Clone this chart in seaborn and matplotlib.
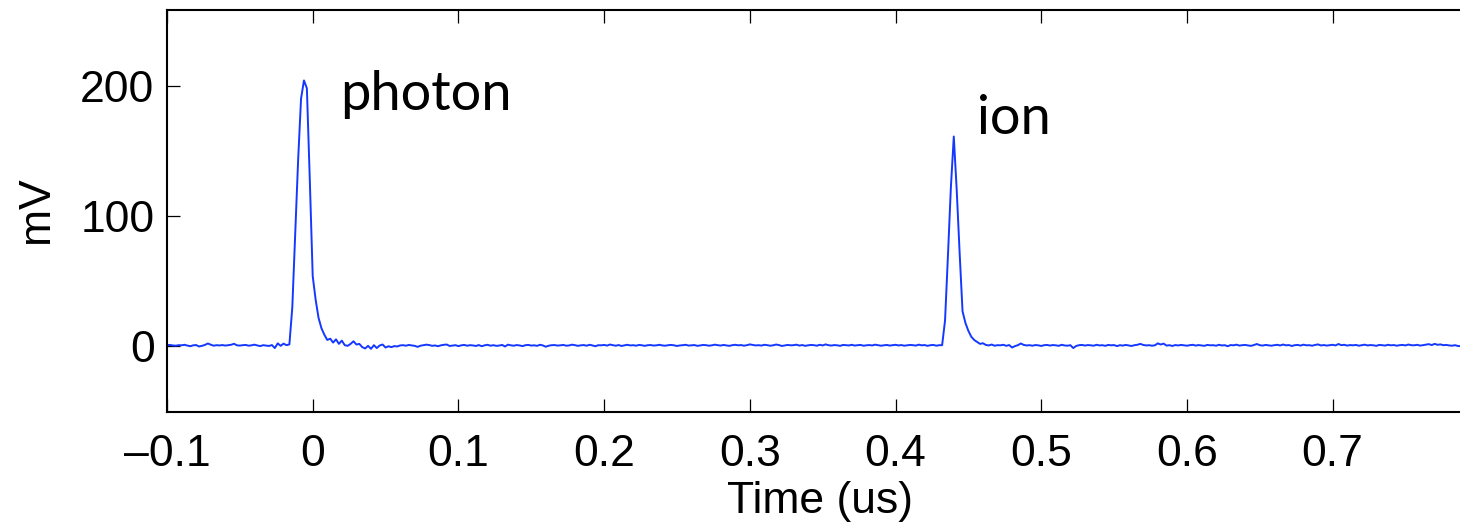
import numpy as np
import pandas as pd
import matplotlib
matplotlib.use("Agg")
import matplotlib.pyplot as plt
import seaborn as sns

# Oscilloscope trace: detector output (mV) vs time (us), sampled every 2 ns.
SAMPLE_STEP = 0.002

# Each segment: start time (us) and the recorded voltages (mV).
pre_photon_start = -0.100
pre_photon_mv = [
    1.0, 1.2, 0.8, 0.6, 1.0, 0.9, 1.3, 0.7, 0.2, 0.9,
    1.1, 0.0, 0.5, 1.2, 2.3, 1.4, 0.6, 1.0, 0.8, 1.1,
    0.7, 1.0, 1.3, 2.1, 0.9, 0.7, 1.0, 1.2, 0.6, 0.9,
    1.4, 0.8, 0.3, 1.0, 0.7, 0.4, 1.1, -1.2, 2.4, 0.5,
    2.2, 1.0, 1.6,
]

photon_start = -0.014
photon_mv = [
    30, 87, 143, 190, 204, 198, 128, 54, 36, 22,
    14, 9, 5, 6, 3, 5.5, 2, 4.5, 1, 0.5,
    2, 4, 1.5,
]

mid_start = 0.032
mid_mv = [
    2.0, -0.5, -1.5, 0.5, -1.8, 1.0, -1.2, 0.8, 1.5, -0.8,
    0.2, -0.5, 0.3, 0.0, 0.8, 1.0, 0.6, 1.2, 0.8, 0.5,
    -0.3, 0.6, 1.0, 1.4, 1.1, 0.5, 0.8, 0.2, 0.9, 1.3,
    1.5, 0.4, 0.7, 1.0, 0.3, 0.9, 1.2, 0.6, 1.0, 0.8,
    0.4, 1.1, 0.2, 0.9, 1.3, 0.6, 1.0, 0.5, 0.7, 1.2,
    0.0, 1.4, 0.9, 0.6, 1.1, 0.8, 0.3, 1.0, 1.2, 0.7,
    0.9, 0.5, 1.3, 0.8, -0.2, 0.6, 1.0, 1.1, 0.7, 0.9,
    1.2, 0.6, 0.8, 1.4, 1.0, 0.5, 0.9, 1.1, 0.6, 1.3,
    0.8, 0.2, 1.0, 0.9, 1.2, 0.7, 1.5, 1.0, 0.6, 1.1,
    0.4, 0.9, 1.3, 0.8, 1.0, 0.6, 1.2, 0.9, 0.5, 1.0,
    1.1, 0.7, 0.9, 1.3, 0.8, 0.6, 1.0, 1.2, 0.9, 0.4,
    0.8, 1.0, 1.3, 0.7, 0.9, 1.1, 0.5, 0.8, 1.2, 1.0,
    0.6, 0.9, 1.4, 1.0, 0.7, 1.2, 0.8, 0.5, 1.0, 1.3,
    0.9, 1.1, 0.6, 1.0, 1.6, 1.2, 0.8, 1.0, 0.7, 1.3,
    1.0, 0.6, 0.9, 1.5, 1.1, 0.4, 0.8, 1.2, 0.9, 1.0,
    1.4, 0.7, 1.1, 0.5, 0.9, 1.2, 1.0, 0.6, 1.3, 0.8,
    1.6, 1.0, 0.7, 1.1, 0.9, 0.5, 1.2, 1.0, 0.8, 1.3,
    0.7, 1.0, 1.2, 0.6, 0.9, 1.1, 0.8, 1.4, 1.0, 0.6,
    0.9, 1.2, 0.7, 1.0, 1.3, 0.8, 1.1, 0.6, 0.9, 1.2,
    1.0, 0.7, 1.4, 0.9, 1.1, 0.5, 1.0, 1.2, 0.6, 1.0,
]

ion_start = 0.432
ion_mv = [
    1.0, 20, 70, 122, 161, 120, 72, 27, 18, 12,
    7.5, 5, 3.5, 2, 2.5,
]

post_start = 0.462
post_mv = [
    1.2, 0.8, 1.5, 0.6, 1.0, 0.9, 1.3, 0.5, 1.1, -0.8,
    0.3, 1.0, 2.3, 1.2, 0.8, 1.0, 0.6, 1.1, 0.9, 0.4,
    1.0, 1.2, 0.7, 1.1, 0.9, 0.5, 1.3, 0.8, 0.6, 1.0,
    -1.2, 0.4, 1.0, 1.2, 0.7, 1.1, 0.9, 0.6, 1.3, 0.8,
    1.0, 0.5, 1.2, 0.9, 1.1, 0.3, 1.0, 0.7, 1.2, 0.8,
    0.4, 1.0, 1.3, 2.0, 1.2, 0.8, 1.0, 0.6, 0.9, 2.4,
    1.5, 2.2, 0.7, 1.0, 0.4, 1.1, 0.8, 1.2, 0.9, 0.6,
    1.0, 1.3, 0.7, 1.1, 0.8, 0.5, 1.2, 0.9, 1.0, 0.6,
    1.3, 0.8, 1.0, 0.2, 1.1, 0.9, 1.4, 0.7, 1.0, 1.2,
    0.8, 0.5, 1.1, 1.9, 1.0, 0.7, 1.2, 0.9, 0.6, 1.0,
    1.3, 0.8, 1.5, 0.9, 1.1, 0.4, 1.0, 1.2, 0.7, 1.4,
    0.9, 1.0, 0.6, 1.2, 1.6, 0.8, 1.1, 0.7, 1.0, 1.3,
    0.8, 1.9, 1.0, 1.3, 0.7, 1.1, 0.9, 1.2, 0.6, 1.0,
    1.4, 0.8, 1.1, 0.9, 0.5, 1.2, 1.0, 0.7, 1.3, 0.9,
    1.1, 0.6, 1.0, 1.2, 0.8, 1.5, 1.0, 0.9, 1.3, 0.7,
    1.0, 1.4, 1.8, 1.1, 2.0, 1.3, 1.6, 1.0, 1.2, 0.8,
    0.6, 1.0, 0.4, 0.2,
]

x_ticks = [-0.1, 0.0, 0.1, 0.2, 0.3, 0.4, 0.5, 0.6, 0.7]
x_tick_labels = ["\u20130.1", "0", "0.1", "0.2", "0.3", "0.4", "0.5", "0.6", "0.7"]
y_ticks = [0, 100, 200]
y_tick_labels = ["0", "100", "200"]

peak_labels = ["photon", "ion"]
peak_label_time = [0.0187, 0.456]
peak_label_mv = [181, 163]

segments = [
    (pre_photon_start, pre_photon_mv),
    (photon_start, photon_mv),
    (mid_start, mid_mv),
    (ion_start, ion_mv),
    (post_start, post_mv),
]
frames = []
for start, values in segments:
    t = start + SAMPLE_STEP * np.arange(len(values))
    frames.append(pd.DataFrame({"time": t, "mV": values}))
trace = pd.concat(frames, ignore_index=True)

sns.set_style("ticks")
plt.rcParams["font.family"] = ["Liberation Sans", "DejaVu Sans"]
for key in ["text.color", "axes.labelcolor", "xtick.color", "ytick.color",
            "axes.edgecolor"]:
    plt.rcParams[key] = "black"

fig = plt.figure(figsize=(14.6, 5.31), dpi=100)
ax = fig.add_axes([167 / 1460, 119.3 / 531, 1295 / 1460, 401.7 / 531])

sns.lineplot(data=trace, x="time", y="mV", ax=ax, color="#1438ff",
             linewidth=1.4, estimator=None, sort=False)

ax.set_xlim(-0.1, 0.7888)
ax.set_ylim(-50, 258)
ax.set_xticks(x_ticks)
ax.set_xticklabels(x_tick_labels)
ax.set_yticks(y_ticks)
ax.set_yticklabels(y_tick_labels)

for side in ["left", "top", "bottom"]:
    ax.spines[side].set_visible(True)
    ax.spines[side].set_linewidth(1.5)
    ax.spines[side].set_color("black")
ax.spines["right"].set_visible(False)

ax.tick_params(axis="both", which="major", direction="in", length=9.5,
               width=0.9, color="black", labelcolor="black", labelsize=32,
               top=True, right=False)
ax.tick_params(axis="x", pad=16)
ax.tick_params(axis="y", pad=9)

ax.set_xlabel("Time (us)", fontsize=32, color="black")
ax.set_ylabel("mV", fontsize=32, color="black")
ax.xaxis.set_label_coords(0.504, -0.172)
ax.yaxis.set_label_coords(-0.085, 0.502)

for label, tx, ty in zip(peak_labels, peak_label_time, peak_label_mv):
    ax.text(tx, ty, label, fontsize=39, family=["Lato", "DejaVu Sans"],
            ha="left", va="baseline", color="black")

fig.savefig("out.png", dpi=100)
